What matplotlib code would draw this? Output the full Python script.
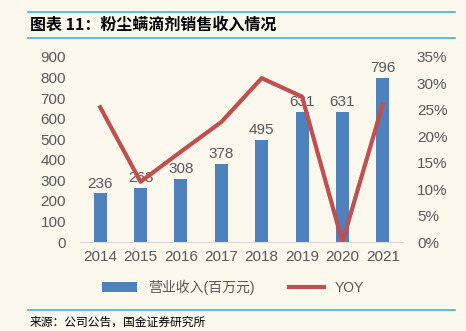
import matplotlib.pyplot as plt
import numpy as np

plt.rcParams['font.family'] = ['Liberation Sans', 'Noto Sans CJK SC', 'DejaVu Sans']

years = ['2014', '2015', '2016', '2017', '2018', '2019', '2020', '2021']
revenue = [236, 263, 308, 378, 495, 631, 631, 796]
yoy = [25.5, 11.4, 17.1, 22.7, 31.0, 27.5, 0.0, 26.1]

bg = '#FCF8EE'
bar_c = '#4F81BD'
line_c = '#C0504D'
txt_c = '#595959'
blue_rule = '#3DB2E6'

fig = plt.figure(figsize=(4.66, 3.31), dpi=100, facecolor=bg)
ax = fig.add_axes([80/466, 1-242/331, 323/466, 185/331], facecolor=bg)
ax2 = ax.twinx()

x = np.arange(len(years))
ax.bar(x, revenue, width=0.32, color=bar_c, label='营业收入(百万元)', zorder=2)
for xi, v in zip(x, revenue):
    ax.text(xi, v + 14, str(v), ha='center', va='bottom', fontsize=11, color=txt_c)
ax.set_ylim(0, 900)
ax.set_yticks(range(0, 901, 100))
ax.set_xlim(-0.5, len(years) - 0.5)
ax.set_xticks(x)
ax.set_xticklabels(years)

ax2.plot(x, yoy, color=line_c, lw=3, label='YOY', zorder=3)
ax2.set_ylim(0, 35)
ax2.set_yticks(range(0, 36, 5))
ax2.set_yticklabels([f'{t}%' for t in range(0, 36, 5)])

for a in (ax, ax2):
    for s in a.spines.values():
        s.set_visible(False)
    a.tick_params(length=0, labelsize=11, colors=txt_c)
ax.spines['bottom'].set_visible(True)
ax.spines['bottom'].set_color('#D9D9D9')
ax.tick_params(axis='x', pad=6)
ax.tick_params(axis='y', pad=10)
ax2.tick_params(axis='y', pad=10)

h1, l1 = ax.get_legend_handles_labels()
h2, l2 = ax2.get_legend_handles_labels()
fig.legend(h1 + h2, l1 + l2, loc='center', bbox_to_anchor=(0.5, 1-287/331), ncol=2,
           frameon=False, fontsize=10, labelcolor=txt_c, handlelength=2.5, columnspacing=2.5,
           prop={'family': ['Liberation Sans', 'Noto Sans CJK SC'], 'size': 10})

fig.add_artist(plt.Line2D([28/466, 455/466], [1-12/331, 1-12/331], color=blue_rule, lw=1.2))
fig.add_artist(plt.Line2D([28/466, 455/466], [1-38/331, 1-38/331], color=blue_rule, lw=1.2))
fig.add_artist(plt.Line2D([28/466, 455/466], [1-310/331, 1-310/331], color=blue_rule, lw=1.2))
fig.text(30/466, 1-25/331, '图表 11：粉尘螨滴剂销售收入情况', fontsize=11.5, fontweight='bold',
         style='italic', va='center', family=['Noto Sans CJK SC', 'DejaVu Sans'], color='black')
fig.text(30/466, 1-322/331, '来源：公司公告，国金证券研究所', fontsize=8.5, va='center',
         family=['Noto Sans CJK SC', 'DejaVu Sans'], color='black')

fig.savefig('out.png', dpi=100, facecolor=bg)
